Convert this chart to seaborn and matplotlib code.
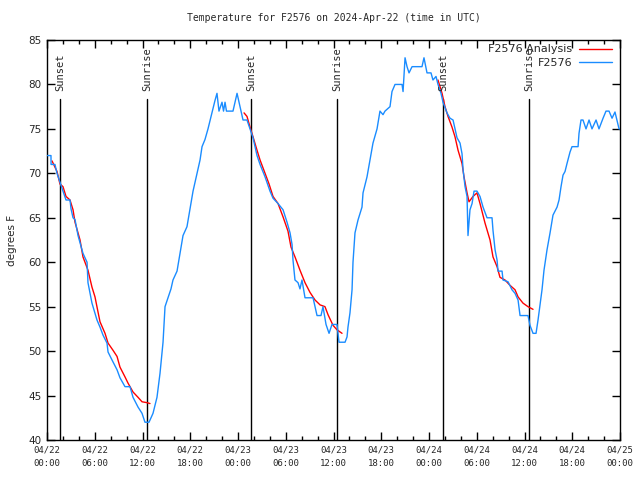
import matplotlib
matplotlib.use("Agg")
import matplotlib.pyplot as plt
import seaborn as sns
import pandas as pd
from matplotlib.ticker import MultipleLocator, FixedLocator

# ---- data (hours since 2024-04-22 00:00 UTC, degrees F) ----
obs_hours = [0.0, 0.5, 0.51, 1.0, 1.26, 1.63, 2.01, 2.39, 2.89, 3.02,
             3.27, 3.52, 3.90, 4.52, 5.03, 5.15, 5.65, 6.28, 6.66, 7.04,
             7.54, 7.67, 8.17, 8.80, 9.17, 9.80, 10.43, 10.81, 11.44, 11.94,
             12.31, 12.82, 13.32, 13.82, 14.20, 14.58, 14.83, 15.20, 15.58, 15.83,
             16.34, 16.71, 17.09, 17.59, 17.97, 18.35, 18.85, 19.23, 19.48, 19.85,
             20.23, 20.73, 21.11, 21.36, 21.61, 21.99, 22.18, 22.37, 22.55, 22.74,
             23.37, 23.88, 24.25, 24.63, 25.13, 25.51, 25.89, 26.39, 26.77, 27.40,
             28.02, 28.40, 29.03, 29.66, 30.16, 30.54, 30.79, 30.91, 31.16, 31.54,
             31.79, 32.04, 32.42, 32.80, 33.43, 33.68, 33.93, 34.43, 34.68, 35.06,
             35.44, 35.81, 36.44, 36.69, 37.45, 37.70, 37.82, 38.07, 38.33, 38.45,
             38.70, 39.08, 39.58, 39.71, 40.21, 40.59, 40.96, 41.47, 41.84, 42.22,
             42.47, 43.10, 43.35, 43.73, 44.61, 44.74, 44.99, 45.24, 45.49, 45.87,
             47.12, 47.37, 47.75, 48.25, 48.50, 48.88, 49.13, 49.51, 49.76, 50.26,
             50.64, 51.02, 51.52, 51.90, 52.15, 52.28, 52.53, 52.78, 52.90, 53.15,
             53.41, 53.66, 54.03, 54.41, 54.79, 55.29, 55.92, 56.04, 56.30, 56.55,
             56.67, 57.18, 57.30, 57.93, 58.43, 58.81, 59.19, 59.44, 60.44, 60.69,
             61.07, 61.45, 61.70, 62.20, 62.45, 62.83, 63.21, 63.58, 64.09, 64.34,
             64.59, 64.84, 65.09, 65.34, 65.72, 65.97, 66.73, 66.85, 67.10, 67.35,
             67.73, 68.11, 68.48, 68.99, 69.36, 69.87, 70.24, 70.62, 71.00, 71.37, 71.88, 72.0]
obs_temps = [72, 72, 71, 71, 70, 69, 68, 67, 67, 66,
             65, 64.8, 63, 61, 60, 57.7, 55.4, 53.5, 52.7, 51.8,
             50.9, 49.9, 49, 47.9, 47, 46, 46, 44.8, 43.7, 43,
             42, 42, 43, 44.8, 47.5, 51, 55, 56, 57, 58,
             59, 61, 63, 64, 66, 68, 70, 71.5, 73, 73.8,
             75, 76.8, 78.2, 79, 77, 78, 77, 78, 77, 77,
             77, 79, 77.5, 76, 76, 75, 74, 72, 71, 69.6,
             68, 67.2, 66.6, 65.9, 64.5, 63.3, 62, 60.25, 58, 57.7,
             57, 58, 56, 56, 56, 55, 54, 54, 55, 53,
             52, 53, 53, 51, 51, 51.6, 52.7, 54.3, 56.9, 60,
             63.3, 64.75, 66.2, 67.8, 69.6, 71.5, 73.4, 75, 77, 76.6,
             77, 77.5, 79.2, 80, 80, 79.2, 83, 82, 81.3, 82,
             82, 83, 81.3, 81.3, 80.5, 80.9, 80, 79, 78, 76.8,
             76.2, 76, 74, 73.4, 72.2, 70.4, 68.5, 67.4, 63, 65.9,
             66.6, 68, 68, 67.4, 66.2, 65, 65, 63.6, 61.4, 60.25,
             59, 59, 58, 57.8, 56.9, 56.5, 55.75, 54, 54, 52.9,
             52, 52, 53.5, 56.9, 59.1, 61.4, 63.3, 65.3, 66.2, 67,
             68.5, 69.8, 70.2, 71.1, 72.4, 73, 73, 74.5, 76, 76,
             75, 76, 75, 76, 75, 76.2, 77, 77, 76.2, 76.9, 75, 75]

ana1_hours = [0.63, 1.26, 1.63, 2.01, 2.39, 2.89, 3.27, 3.52, 4.15, 4.52,
              5.15, 5.65, 6.03, 6.41, 6.66, 7.29, 7.67, 8.29, 8.80, 9.17,
              9.80, 10.18, 10.81, 11.44, 11.94, 12.57, 12.94]
ana1_temps = [71.4, 70.2, 68.8, 68.5, 67.4, 67, 65.9, 64.5, 62.5, 60.6,
              59.1, 57.2, 56.1, 54.4, 53.3, 52, 50.9, 50.1, 49.4, 48.2,
              47.1, 46.4, 45.4, 44.8, 44.3, 44.2, 44.1]
ana2_hours = [24.76, 25.13, 25.51, 25.89, 26.39, 26.77, 27.40, 27.90, 28.40, 29.03,
              29.66, 30.28, 30.66, 31.16, 31.79, 32.42, 33.05, 33.68, 34.31, 34.93,
              35.31, 35.94, 36.44, 37.07]
ana2_temps = [76.8, 76.4, 75.2, 74.1, 72.6, 71.5, 70, 68.8, 67.4, 66.6,
              65.1, 63.5, 61.7, 60.6, 59.1, 57.7, 56.6, 55.75, 55.2, 55,
              54.1, 52.9, 52.4, 52]
ana3_hours = [49.13, 49.64, 50.01, 50.39, 50.89, 51.27, 51.65, 52.15, 52.40, 52.78,
              53.03, 53.53, 54.03, 54.41, 55.04, 55.67, 56.04, 56.55, 56.92, 57.55,
              58.18, 58.81, 59.19, 59.81, 60.44, 61.07]
ana3_temps = [80.5, 79, 77.5, 76.4, 75.2, 74.1, 72.6, 71.1, 69.6, 67.8,
              66.8, 67.4, 67.8, 66.6, 64.4, 62.5, 60.6, 59.5, 58.3, 58,
              57.4, 56.9, 56.1, 55.4, 55, 54.7]

sun_hours = [1.63, 12.57, 25.63, 36.44, 49.76, 60.57]
sun_labels = ["Sunset", "Sunrise", "Sunset", "Sunrise", "Sunset", "Sunrise"]

xtick_hours = list(range(0, 73, 6))
xtick_labels = ["04/22\n00:00", "04/22\n06:00", "04/22\n12:00", "04/22\n18:00",
                "04/23\n00:00", "04/23\n06:00", "04/23\n12:00", "04/23\n18:00",
                "04/24\n00:00", "04/24\n06:00", "04/24\n12:00", "04/24\n18:00",
                "04/25\n00:00"]

# ---- plot ----
sns.set_style("white")
fig = plt.figure(figsize=(6.4, 4.8), dpi=100)
ax = fig.add_axes([47/640, 40/480, 573/640, 400/480])

red = "#ff0000"
blue = "#1a8cff"

for i, (h, t) in enumerate([(ana1_hours, ana1_temps), (ana2_hours, ana2_temps),
                            (ana3_hours, ana3_temps)]):
    df = pd.DataFrame({"hour": h, "temp": t})
    sns.lineplot(data=df, x="hour", y="temp", ax=ax, color=red, lw=1.0,
                 label="F2576 Analysis" if i == 0 else None, zorder=3)

df_obs = pd.DataFrame({"hour": obs_hours, "temp": obs_temps})
sns.lineplot(data=df_obs, x="hour", y="temp", ax=ax, color=blue, lw=1.0,
             label="F2576", zorder=4)

ax.set_xlim(0, 72)
ax.set_ylim(40, 85)

ymax_line = (78.4 - 40) / 45
for h, lab in zip(sun_hours, sun_labels):
    ax.axvline(h, ymin=0, ymax=ymax_line, color="black", lw=1.0, zorder=2)
    ax.text(h, 79.3, lab, rotation=90, ha="center", va="bottom",
            fontsize=7.5, family="DejaVu Sans Mono", zorder=5)

ax.xaxis.set_major_locator(FixedLocator(xtick_hours))
ax.set_xticklabels(xtick_labels, family="DejaVu Sans Mono", fontsize=6.5,
                   linespacing=1.7)
ax.xaxis.set_minor_locator(MultipleLocator(2))
ax.yaxis.set_major_locator(MultipleLocator(5))
for lab in ax.get_yticklabels():
    lab.set_fontsize(7.5)
ax.tick_params(which="both", direction="in", top=True, right=True,
               bottom=True, left=True, color="black", width=1.0)
ax.tick_params(which="major", length=6, pad=4)
ax.tick_params(which="minor", length=3)

for s in ax.spines.values():
    s.set_color("black")
    s.set_linewidth(1.0)

ax.set_xlabel("")
ax.set_ylabel("degrees F", fontsize=7.5, labelpad=8)
ax.set_title("Temperature for F2576 on 2024-Apr-22 (time in UTC)",
             family="DejaVu Sans Mono", fontsize=7, pad=14)

leg = ax.legend(loc="upper right", frameon=False, markerfirst=False, fontsize=8,
                handlelength=3.0, borderaxespad=0.0, labelspacing=0.35,
                handletextpad=0.6, bbox_to_anchor=(0.994, 1.0))

fig.savefig("out.png", dpi=100)
